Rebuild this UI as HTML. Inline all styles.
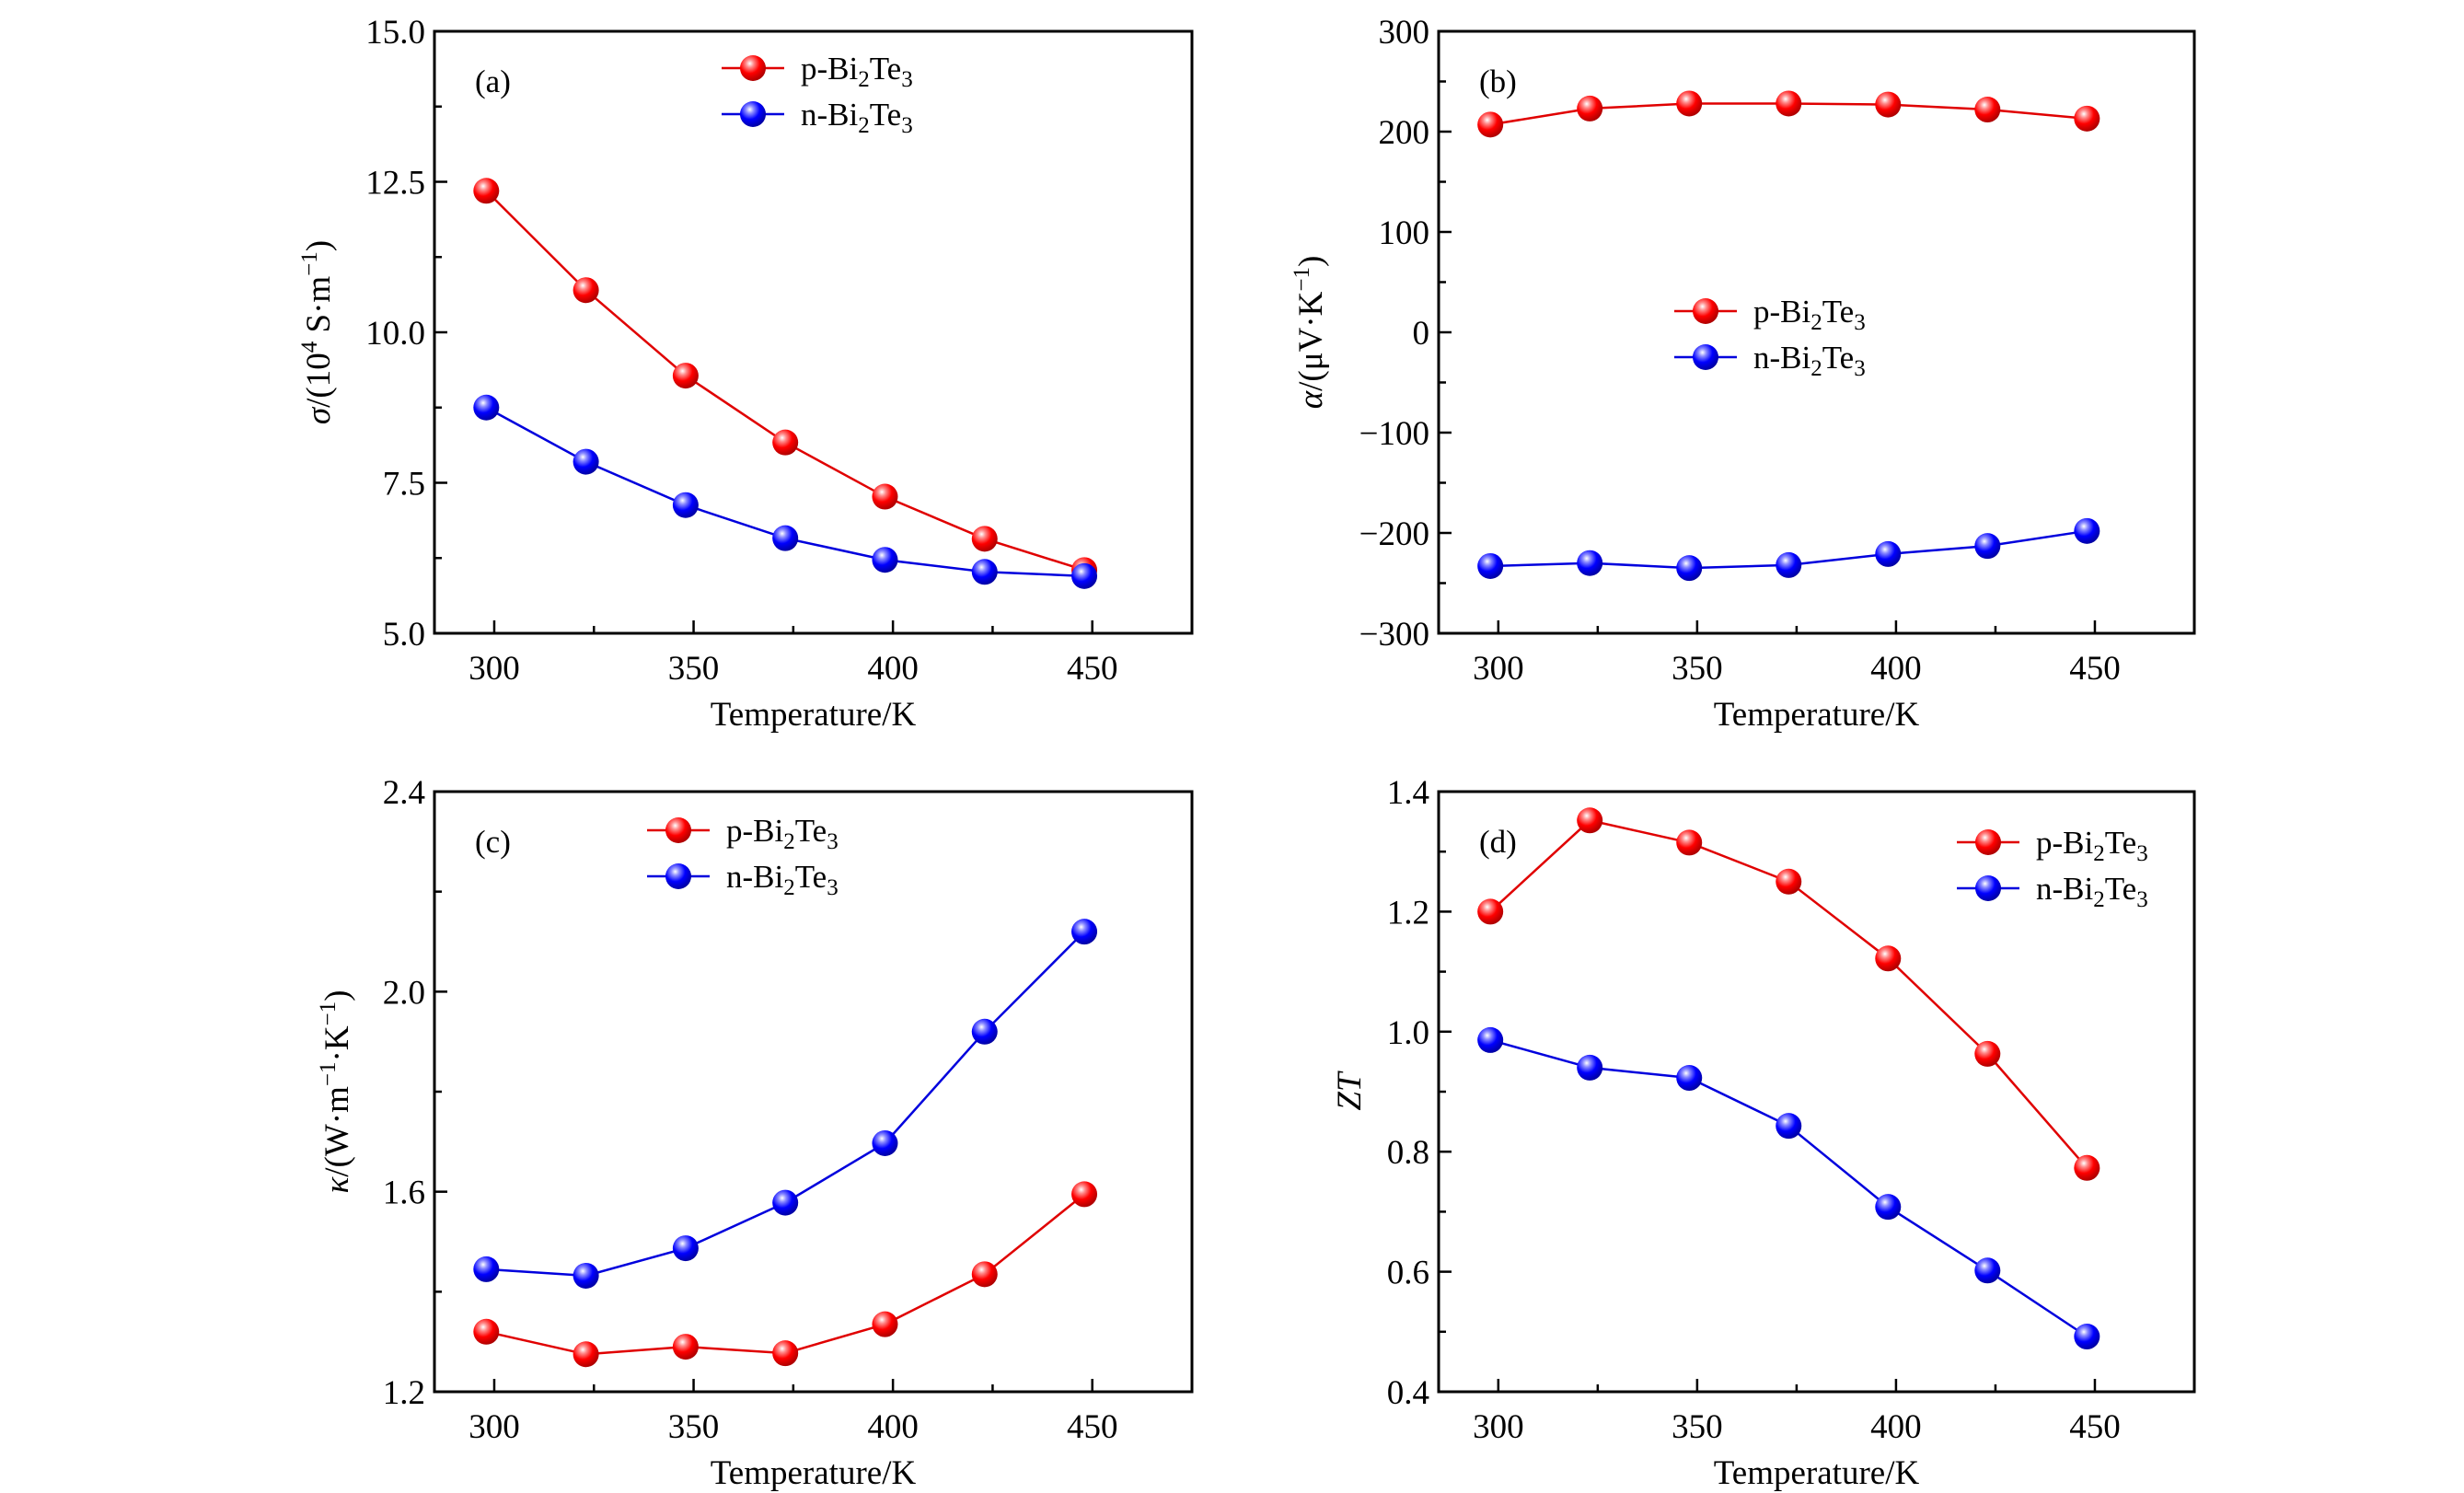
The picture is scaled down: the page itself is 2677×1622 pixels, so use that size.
<!DOCTYPE html>
<html><head><meta charset="utf-8"><style>
html,body{margin:0;padding:0;background:#fff;}
svg{display:block;font-family:"Liberation Serif",serif;}
</style></head><body>
<svg id="fig" width="2677" height="1622" viewBox="0 0 2677 1622" xmlns="http://www.w3.org/2000/svg">
<defs>
<radialGradient id="gr" cx="0.38" cy="0.32" r="0.7"><stop offset="0" stop-color="#fff"/><stop offset="0.22" stop-color="#ff8a8a"/><stop offset="0.55" stop-color="#f00"/><stop offset="1" stop-color="#a00"/></radialGradient>
<radialGradient id="gb" cx="0.38" cy="0.32" r="0.7"><stop offset="0" stop-color="#fff"/><stop offset="0.22" stop-color="#8a8aff"/><stop offset="0.55" stop-color="#00f"/><stop offset="1" stop-color="#0000a0"/></radialGradient>
</defs>
</svg>
<script>
const temps=[298,323,348,373,398,423,448];
const xTicks=[300,350,400,450];
const aP=[12.35,10.7,9.28,8.17,7.27,6.57,6.05];
const aN=[8.75,7.85,7.13,6.58,6.22,6.02,5.95];
const aTicks=["5.0","7.5","10.0","12.5","15.0"];
const bP=[207,223,228,228,227,222,213];
const bN=[-233,-230,-235,-232,-221,-213,-198];
const bTicks=["−300","−200","−100","0","100","200","300"];
const cP=[1.32,1.275,1.29,1.277,1.335,1.435,1.595];
const cN=[1.445,1.432,1.487,1.578,1.697,1.92,2.12];
const cTicks=["1.2","1.6","2.0","2.4"];
const dP=[1.2,1.352,1.315,1.25,1.122,0.963,0.773];
const dN=[0.986,0.94,0.923,0.843,0.708,0.602,0.492];
const dTicks=["0.4","0.6","0.8","1.0","1.2","1.4"];

const NS="http://www.w3.org/2000/svg";
const svg=document.getElementById('fig');
function mk(t,a,p){const e=document.createElementNS(NS,t);for(const k in a)e.setAttribute(k,a[k]);(p||svg).appendChild(e);return e;}
function tick(s){return parseFloat(s.replace('−','-'));}

function panel(o){
  const g=mk('g',{});
  
  
  const X=v=>o.L+(v-285)/(475-285)*(o.R-o.L);
  const yv=o.ticks.map(tick);const y0=yv[0],y1=yv[yv.length-1];
  const Y=v=>o.B-(v-y0)/(y1-y0)*(o.B-o.T);
  const fr=mk('rect',{x:o.L,y:o.T,width:o.R-o.L,height:o.B-o.T,fill:'none',stroke:'#000','stroke-width':3},g);
  
  
  for(let v=300;v<=450;v+=25){const M=v%50===0;mk('line',{x1:X(v),x2:X(v),y1:o.B,y2:o.B-(M?14:8),stroke:'#000','stroke-width':2.5},g);}
  xTicks.forEach(v=>{const t=mk('text',{x:X(v),y:o.B+50,'font-size':37,'text-anchor':'middle'},g);t.textContent=v;
    
    });
  const step=yv[1]-yv[0];
  for(let i=0;i<yv.length;i++){
    mk('line',{x1:o.L,x2:o.L+14,y1:Y(yv[i]),y2:Y(yv[i]),stroke:'#000','stroke-width':2.5},g);
    if(i<yv.length-1){const m=yv[i]+step/2;mk('line',{x1:o.L,x2:o.L+8,y1:Y(m),y2:Y(m),stroke:'#000','stroke-width':2.5},g);}
    const t=mk('text',{x:o.L-10,y:Y(yv[i])+13,'font-size':37,'text-anchor':'end'},g);t.textContent=o.ticks[i];
    
    
  }
  const xt=mk('text',{x:(o.L+o.R)/2,y:o.B+100,'font-size':37,'text-anchor':'middle'},g);xt.textContent='Temperature/K';
  
  
  const yt=mk('text',{x:0,y:0,'font-size':37,'text-anchor':'middle',transform:`translate(${o.yx},${(o.T+o.B)/2}) rotate(-90)`},g);
  yt.innerHTML=o.ytitle;
  
  
  const pl=mk('text',{x:o.L+44,y:o.T+66,'font-size':35},g);pl.textContent='('+o.id+')';
  
  
  [[o.p,'#e00000','gr','p'],[o.n,'#0000dd','gb','n']].forEach(([d,c,gid,nm])=>{
    const pts=temps.map((t,i)=>X(t)+','+Y(d[i])).join(' ');
    const ln=mk('polyline',{points:pts,fill:'none',stroke:c,'stroke-width':2.5},g);
    
    
    temps.forEach((t,i)=>{const ci=mk('circle',{cx:X(t),cy:Y(d[i]),r:14,fill:`url(#${gid})`},g);
      
      });
  });
  [['p','#e00000','gr'],['n','#0000dd','gb']].forEach(([nm,c,gid],k)=>{
    const ly=o.ly+k*50;
    const lg=mk('g',{},g);
    
    
    mk('line',{x1:o.lx,x2:o.lx+68,y1:ly,y2:ly,stroke:c,'stroke-width':2.5},lg);
    mk('circle',{cx:o.lx+34,cy:ly,r:14,fill:`url(#${gid})`},lg);
    const t=mk('text',{x:o.lx+86,y:ly+12,'font-size':35},lg);
    t.innerHTML=nm+'-Bi<tspan font-size="25" dy="8">2</tspan><tspan dy="-8">Te</tspan><tspan font-size="25" dy="8">3</tspan>';
  });
}
panel({id:'a',L:472,R:1295,T:34,B:688,p:aP,n:aN,ticks:aTicks,yx:358,lx:784,ly:74,
  ytitle:'<tspan font-style="italic">σ</tspan>/(10<tspan font-size="25" dy="-14">4</tspan><tspan dy="14"> S·m</tspan><tspan font-size="25" dy="-14">−1</tspan><tspan dy="14">)</tspan>'});
panel({id:'b',L:1563,R:2384,T:34,B:688,p:bP,n:bN,ticks:bTicks,yx:1436,lx:1819,ly:338,
  ytitle:'<tspan font-style="italic">α</tspan>/(μV·K<tspan font-size="25" dy="-14">−1</tspan><tspan dy="14">)</tspan>'});
panel({id:'c',L:472,R:1295,T:860,B:1512,p:cP,n:cN,ticks:cTicks,yx:378,lx:703,ly:902,
  ytitle:'<tspan font-style="italic">κ</tspan>/(W·m<tspan font-size="25" dy="-14">−1</tspan><tspan dy="14">·K</tspan><tspan font-size="25" dy="-14">−1</tspan><tspan dy="14">)</tspan>'});
panel({id:'d',L:1563,R:2384,T:860,B:1512,p:dP,n:dN,ticks:dTicks,yx:1478,lx:2126,ly:915,
  ytitle:'<tspan font-style="italic">ZT</tspan>'});
</script>
</body></html>
